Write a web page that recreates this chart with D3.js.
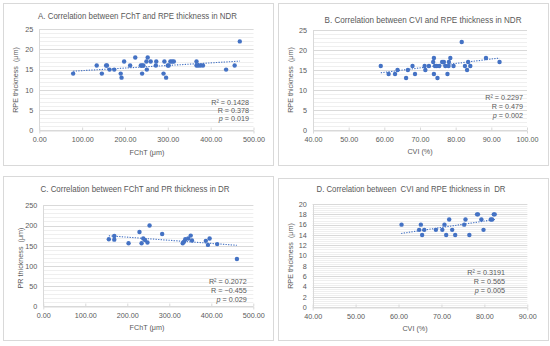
<!DOCTYPE html>
<html><head><meta charset="utf-8">
<script src="https://cdn.jsdelivr.net/npm/d3@7"></script>
<style>body{margin:0;background:#fff}text{font-family:"Liberation Sans",Arial,sans-serif;fill:#595959;white-space:pre}</style>
</head><body><svg id="c" width="550" height="346"></svg>
<script>
// Panel A: FChT vs RPE thickness (NDR)
const aX = [79,134,146,156,158,164,175,190,192,198,212,224,237,240,240,243,251,253,250,260,272,273,290,292,296,300,302,306,310,314,367,367,371,376,382,436,456,468];
const aY = [14,16,14,16,16,15,15,14,13,17,16,18,16,16,14,16,15,18,17,17,16,17,14,17,13,16,16,17,17,17,17,16,16,16,16,15,16,22];
const aTrend = [[79,14.6],[468,17.1]];
// Panel B: CVI vs RPE thickness (NDR)
const bX = [59.0,61.2,63.0,63.7,66.1,66.6,67.9,68.6,71.3,71.5,72.5,73.7,73.9,73.9,74.2,74.7,74.9,75.4,76.2,76.7,77.1,77.7,78.1,78.0,78.5,79.4,81.7,82.6,83.2,83.5,84.1,88.5,92.3];
const bY = [16,14,14,15,13,15,16,14,16,15,16,17,18,14,16,16,13,16,17,17,16,14,17,16,18,16,22,16,15,17,16,18,17];
const bTrend = [[59.0,14.3],[92.3,18.0]];
// Panel C: FChT vs PR thickness (DR)
const cX = [156,169,169,203,229,234,238,242,248,253,283,332,335,338,345,351,354,387,392,396,414,461];
const cY = [166,174,165,156,184,156,168,164,158,200,179,156,160,166,168,175,163,162,152,168,154,117];
const cTrend = [[156,174.5],[461,151]];
// Panel D: CVI vs RPE thickness (DR)
const dX = [60.7,65.2,64.8,66.0,65.5,68.7,70.2,70.7,71.1,71.8,72.5,73.2,75.3,75.6,76.5,78.3,78.5,79.3,79.8,81.5,81.8,82.2,82.4];
const dY = [16,16,15,15,14,15,15,16,14,17,15,14,16,17,14,18,18,17,15,17,17,18,18];
const dTrend = [[60.6,14.3],[82.5,17.0]];

const titles = ["A. Correlation between FChT and RPE thickness in NDR","B. Correlation between CVI and RPE thickness in NDR","C. Correlation between FChT and PR thickness in DR","D. Correlation between  CVI and RPE thickness in  DR"];
const xTitles = ["FChT (μm)","CVI (%)","FChT (μm)","CVI (%)"];
const yTitles = ["RPE thickness  (μm)","RPE thickness  (μm)","PR thickness  (μm)","RPE thickness  (μm)"];
const stats = [["R² = 0.1428","R = 0.378","0.019"],["R² = 0.2297","R = 0.479","0.002"],["R² = 0.2072","R = −0.455","0.029"],["R² = 0.3191","R = 0.565","0.005"]];
const xDomains = [[0,500],[40,100],[0,500],[40,90]];
const xSteps = [100,10,100,10];
const yDomains = [[0,25],[0,25],[0,250],[0,20]];
const ySteps = [5,5,50,2];

const layout = [
 {box:[3,3,270,162], px:[39.3,253.5], py:[130,29.3], title:[137.5,18.5,199], ytl:[15,80], xtl:[147,155], st:[249,104.5,8.3]},
 {box:[278,3,270,162], px:[313,527], py:[130,30], title:[423,23,197], ytl:[290,80], xtl:[420,154], st:[523,99.5,9.2]},
 {box:[3,176,270,164], px:[43.3,253.3], py:[306.3,205.3], title:[135,192,189], ytl:[20,258], xtl:[147,330], st:[246.7,284,9.2]},
 {box:[278,178,270,162], px:[312.7,527.3], py:[307.3,204], title:[411,192,189], ytl:[290,256], xtl:[415,331], st:[505,275,9]}
];
const data = [[aX,aY,aTrend],[bX,bY,bTrend],[cX,cY,cTrend],[dX,dY,dTrend]];
const blue = "#4472C4";
const svg = d3.select("#c");

layout.forEach((L,i)=>{
  const g = svg.append("g");
  g.append("rect").attr("x",L.box[0]+0.5).attr("y",L.box[1]+0.5).attr("width",L.box[2]).attr("height",L.box[3])
    .attr("fill","#fff").attr("stroke","#d9d9d9");
  const x = d3.scaleLinear().domain(xDomains[i]).range(L.px);
  const y = d3.scaleLinear().domain(yDomains[i]).range(L.py);
  const yMinor = d3.range(yDomains[i][0], yDomains[i][1]+1e-9, ySteps[i]/5);
  g.selectAll(".mn").data(yMinor).enter().append("line")
    .attr("x1",L.px[0]).attr("x2",L.px[1]).attr("y1",d=>Math.round(y(d))+0.5).attr("y2",d=>Math.round(y(d))+0.5)
    .attr("stroke","#efefef").attr("stroke-width",1);
  const yTicks = d3.range(yDomains[i][0], yDomains[i][1]+1e-9, ySteps[i]);
  g.selectAll(".mj").data(yTicks).enter().append("line")
    .attr("x1",L.px[0]).attr("x2",L.px[1]).attr("y1",d=>Math.round(y(d))+0.5).attr("y2",d=>Math.round(y(d))+0.5)
    .attr("stroke","#d9d9d9").attr("stroke-width",1);
  g.append("line").attr("x1",Math.round(L.px[0])+0.5).attr("x2",Math.round(L.px[0])+0.5).attr("y1",L.py[0]).attr("y2",L.py[1])
    .attr("stroke","#d9d9d9");
  const xTicks = d3.range(xDomains[i][0], xDomains[i][1]+1e-9, xSteps[i]);
  const xa = d3.axisBottom(x).tickValues(xTicks).tickFormat(d3.format(".2f")).tickSize(3).tickPadding(3);
  const xg = g.append("g").attr("transform",`translate(0,${Math.round(L.py[0])+0.5})`).call(xa);
  xg.select(".domain").attr("stroke","#d9d9d9");
  xg.selectAll(".tick line").attr("stroke","#d9d9d9").attr("y1",-3).attr("y2",0);
  xg.selectAll(".tick text").attr("font-size","7.2px").attr("fill","#595959").attr("font-family","Liberation Sans, Arial");
  const ya = d3.axisLeft(y).tickValues(yTicks).tickFormat(d3.format("d")).tickSize(0).tickPadding(6);
  const yg = g.append("g").attr("transform",`translate(${L.px[0]},0)`).call(ya);
  yg.select(".domain").remove();
  yg.selectAll(".tick text").attr("font-size","7.2px").attr("fill","#595959").attr("font-family","Liberation Sans, Arial");
  const [xs,ys,tr] = data[i];
  g.append("path").attr("d",d3.line().x(d=>x(d[0])).y(d=>y(d[1]))(tr))
    .attr("stroke",blue).attr("stroke-width",1.1).attr("stroke-dasharray","1.3,1.3").attr("fill","none");
  g.selectAll(".pt").data(xs.map((v,k)=>[v,ys[k]])).enter().append("circle")
    .attr("cx",d=>x(d[0])).attr("cy",d=>y(d[1])).attr("r",2.2).attr("fill",blue);
  g.append("text").attr("x",L.title[0]).attr("y",L.title[1]).attr("text-anchor","middle")
    .attr("font-size","9.3px").attr("textLength",L.title[2]).attr("lengthAdjust","spacingAndGlyphs").text(titles[i]);
  g.append("text").attr("transform",`translate(${L.ytl[0]+3},${L.ytl[1]}) rotate(-90)`).attr("text-anchor","middle")
    .attr("font-size","7.2px").text(yTitles[i]);
  g.append("text").attr("x",L.xtl[0]).attr("y",L.xtl[1]).attr("text-anchor","middle").attr("font-size","7.2px").text(xTitles[i]);
  const s = stats[i];
  g.append("text").attr("x",L.st[0]).attr("y",L.st[1]).attr("text-anchor","end").attr("font-size","7.2px").text(s[0]);
  g.append("text").attr("x",L.st[0]).attr("y",L.st[1]+L.st[2]).attr("text-anchor","end").attr("font-size","7.2px").text(s[1]);
  const t3 = g.append("text").attr("x",L.st[0]).attr("y",L.st[1]+2*L.st[2]).attr("text-anchor","end").attr("font-size","7.2px");
  t3.append("tspan").attr("font-style","italic").text("p");
  t3.append("tspan").text(" = "+s[2]);
});
</script></body></html>
